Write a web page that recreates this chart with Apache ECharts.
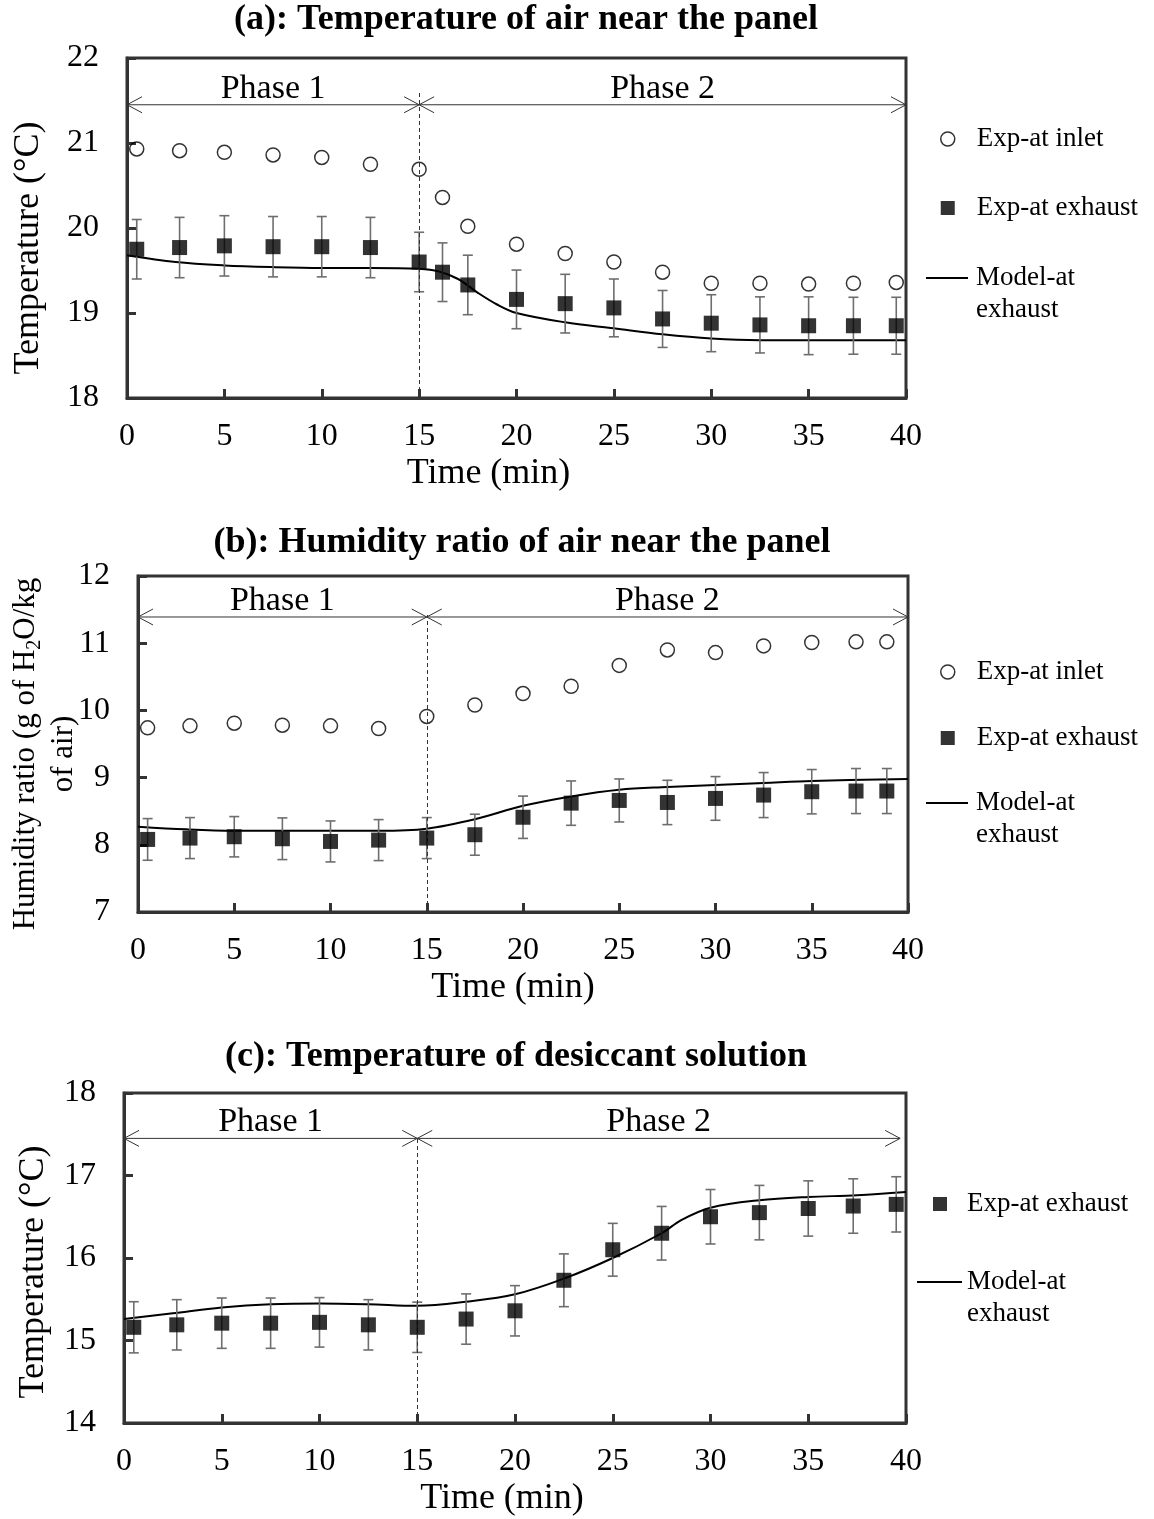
<!DOCTYPE html>
<html>
<head>
<meta charset="UTF-8">
<title>Panel air and desiccant solution</title>
<script src="https://cdn.jsdelivr.net/npm/echarts@6/dist/echarts.min.js"></script>
<style>html,body{margin:0;padding:0;background:#fff;}</style>
</head>
<body>
<div id="main" style="width:1154px;height:1519px;"></div>
<script type="text/javascript">
// (a) temperature of air near the panel
var timeA = [0.5, 2.7, 5, 7.5, 10, 12.5, 15, 16.2, 17.5, 20, 22.5, 25, 27.5, 30, 32.5, 35, 37.3, 39.5];
var inletA = [20.93, 20.91, 20.89, 20.86, 20.83, 20.75, 20.69, 20.36, 20.02, 19.81, 19.70, 19.60, 19.48, 19.35, 19.35, 19.34, 19.35, 19.36];
var exhaustA = [19.75, 19.77, 19.79, 19.78, 19.78, 19.77, 19.60, 19.48, 19.33, 19.16, 19.11, 19.06, 18.93, 18.88, 18.86, 18.85, 18.85, 18.85];
var exhaustErrA = [0.35, 0.355, 0.355, 0.355, 0.355, 0.355, 0.35, 0.345, 0.35, 0.345, 0.345, 0.34, 0.335, 0.335, 0.33, 0.34, 0.335, 0.335];
var modelTimeA = [0, 2.5, 5, 7.5, 10, 12.5, 15, 16, 17, 18, 19, 20, 22.5, 25, 27.5, 30, 32.5, 35, 40];
var modelA = [19.68, 19.60, 19.56, 19.54, 19.53, 19.53, 19.52, 19.49, 19.40, 19.24, 19.10, 19.00, 18.89, 18.82, 18.75, 18.70, 18.68, 18.68, 18.68];

// (b) humidity ratio of air near the panel
var timeB = [0.5, 2.7, 5, 7.5, 10, 12.5, 15, 17.5, 20, 22.5, 25, 27.5, 30, 32.5, 35, 37.3, 38.9];
var inletB = [9.74, 9.77, 9.81, 9.78, 9.77, 9.73, 9.91, 10.08, 10.25, 10.36, 10.67, 10.90, 10.86, 10.96, 11.01, 11.02, 11.02];
var exhaustB = [8.08, 8.10, 8.12, 8.09, 8.05, 8.07, 8.10, 8.15, 8.41, 8.62, 8.66, 8.63, 8.69, 8.74, 8.79, 8.80, 8.80];
var exhaustErrB = [0.31, 0.305, 0.30, 0.31, 0.305, 0.305, 0.305, 0.305, 0.315, 0.33, 0.32, 0.33, 0.325, 0.335, 0.33, 0.335, 0.335];
var modelTimeB = [0, 2.5, 5, 7.5, 10, 12.5, 15, 17.5, 20, 22.5, 25, 27.5, 30, 32.5, 35, 40];
var modelB = [8.27, 8.23, 8.21, 8.21, 8.21, 8.21, 8.24, 8.38, 8.58, 8.72, 8.82, 8.86, 8.89, 8.92, 8.95, 8.98];

// (c) temperature of desiccant solution
var timeC = [0.5, 2.7, 5, 7.5, 10, 12.5, 15, 17.5, 20, 22.5, 25, 27.5, 30, 32.5, 35, 37.3, 39.5];
var exhaustC = [15.16, 15.19, 15.21, 15.21, 15.22, 15.19, 15.16, 15.26, 15.36, 15.73, 16.10, 16.30, 16.50, 16.55, 16.60, 16.63, 16.65];
var exhaustErrC = [0.31, 0.305, 0.305, 0.305, 0.30, 0.305, 0.305, 0.305, 0.305, 0.32, 0.32, 0.325, 0.33, 0.33, 0.335, 0.33, 0.335];
var modelTimeC = [0, 2.5, 5, 7.5, 10, 12.5, 15, 17.5, 20, 22.5, 25, 27.5, 28.5, 30, 32.5, 35, 37.5, 40];
var modelC = [15.26, 15.33, 15.40, 15.44, 15.45, 15.44, 15.42, 15.47, 15.56, 15.75, 16.00, 16.30, 16.46, 16.61, 16.70, 16.74, 16.76, 16.80];

// phase annotations
var phaseNames = ['Phase 1', 'Phase 2'];
var phaseStart = [0, 15];
var phaseEnd = [[15, 40], [15, 40], [15, 39.7]];
var phaseArrowY = [21.45, 11.39, 17.45];
var phaseSwitch = 15;
var dividerTop = [21.62, 11.42, 17.45];

var yMin = [18, 7, 14];
var yMax = [22, 12, 18];

var serif = '"Liberation Serif", "Times New Roman", serif';
var myChart = echarts.init(document.getElementById('main'));

function pairs(xs, ys) {
    return xs.map(function (x, i) { return [x, ys[i]]; });
}
function errData(xs, ys, es) {
    return xs.map(function (x, i) { return [x, ys[i] - es[i], ys[i] + es[i]]; });
}
function phaseData(k) {
    return phaseNames.map(function (n, i) { return [phaseStart[i], phaseEnd[k][i], phaseArrowY[k]]; });
}

function renderErr(params, api) {
    var lo = api.coord([api.value(0), api.value(1)]);
    var hi = api.coord([api.value(0), api.value(2)]);
    var w = 5;
    var st = { stroke: '#6e6e6e', lineWidth: 1.6 };
    return {
        type: 'group',
        children: [
            { type: 'line', shape: { x1: lo[0], y1: lo[1], x2: hi[0], y2: hi[1] }, style: st },
            { type: 'line', shape: { x1: lo[0] - w, y1: lo[1], x2: lo[0] + w, y2: lo[1] }, style: st },
            { type: 'line', shape: { x1: hi[0] - w, y1: hi[1], x2: hi[0] + w, y2: hi[1] }, style: st }
        ]
    };
}

function renderPhase(params, api) {
    var a = api.coord([api.value(0), api.value(2)]);
    var b = api.coord([api.value(1), api.value(2)]);
    var l = 15, h = 8;
    var st = { stroke: '#333', lineWidth: 1, fill: null };
    return {
        type: 'group',
        children: [
            { type: 'line', shape: { x1: a[0], y1: a[1], x2: b[0], y2: b[1] }, style: st },
            { type: 'polyline', shape: { points: [[a[0] + l, a[1] - h], [a[0], a[1]], [a[0] + l, a[1] + h]] }, style: st },
            { type: 'polyline', shape: { points: [[b[0] - l, b[1] - h], [b[0], b[1]], [b[0] - l, b[1] + h]] }, style: st },
            {
                type: 'text', x: (a[0] + b[0]) / 2, y: a[1] - 16,
                style: { text: phaseNames[params.dataIndex], fontFamily: serif, fontSize: 34, fill: '#000', align: 'center', verticalAlign: 'middle' }
            }
        ]
    };
}

function xAxisFor(g, pad) {
    return {
        type: 'value', gridIndex: g, min: 0, max: 40, interval: 5,
        name: 'Time (min)', nameLocation: 'middle', nameGap: 58, nameMoveOverlap: false,
        nameTextStyle: { fontFamily: serif, fontSize: 36, color: '#000', padding: [0, pad, 0, 0] },
        axisLine: { lineStyle: { color: '#333', width: 3 } },
        axisTick: { inside: true, length: 9, lineStyle: { color: '#333', width: 3 } },
        axisLabel: { fontFamily: serif, fontSize: 32, color: '#000', margin: 23 },
        splitLine: { show: false }
    };
}
function yAxisFor(g, name, gap, pad, extra) {
    var ax = {
        type: 'value', gridIndex: g, min: yMin[g], max: yMax[g], interval: 1,
        name: name, nameLocation: 'middle', nameRotate: 90, nameGap: gap, nameMoveOverlap: false,
        nameTextStyle: { fontFamily: serif, fontSize: 36, color: '#000', padding: [0, pad, 0, 0] },
        axisLine: { lineStyle: { color: '#333', width: 3 } },
        axisTick: { inside: true, length: 9, lineStyle: { color: '#333', width: 3 } },
        axisLabel: { fontFamily: serif, fontSize: 32, color: '#000', margin: 28 },
        splitLine: { show: false }
    };
    if (extra) { Object.assign(ax.nameTextStyle, extra); }
    return ax;
}

function panelSeries(k, inlet, time, exhaust, err, mTime, model) {
    var s = [];
    s.push({
        type: 'custom', name: 'phase' + k, xAxisIndex: k, yAxisIndex: k, silent: true,
        renderItem: renderPhase, encode: { x: [0, 1], y: 2 }, data: phaseData(k), z: 1
    });
    s.push({
        type: 'line', name: 'Model-at exhaust', xAxisIndex: k, yAxisIndex: k,
        data: pairs(mTime, model), smooth: 0.35, symbol: 'none',
        lineStyle: { color: '#000', width: 2 }, itemStyle: { color: '#000' }, z: 2,
        markLine: {
            silent: true, symbol: ['none', 'none'], label: { show: false },
            lineStyle: { color: '#333', width: 1, type: [4, 3] },
            data: [[{ coord: [phaseSwitch, yMin[k]] }, { coord: [phaseSwitch, dividerTop[k]] }]]
        }
    });
    if (inlet) {
        s.push({
            type: 'scatter', name: 'Exp-at inlet', xAxisIndex: k, yAxisIndex: k,
            data: pairs(time, inlet), symbol: 'circle', symbolSize: 14,
            itemStyle: { color: 'rgba(255,255,255,0)', borderColor: '#000', borderWidth: 1.5 }, z: 4
        });
    }
    s.push({
        type: 'custom', name: 'err' + k, xAxisIndex: k, yAxisIndex: k, silent: true,
        renderItem: renderErr, encode: { x: 0, y: [1, 2] }, data: errData(time, exhaust, err), z: 3
    });
    s.push({
        type: 'scatter', name: 'Exp-at exhaust', xAxisIndex: k, yAxisIndex: k,
        data: pairs(time, exhaust), symbol: 'rect', symbolSize: 15,
        itemStyle: { color: '#000' }, z: 5
    });
    return s;
}

var legendText = { fontFamily: serif, fontSize: 27, color: '#000', lineHeight: 32 };
var iconInlet = { name: 'Exp-at inlet', icon: 'circle', itemStyle: { color: '#fff', borderColor: '#000', borderWidth: 1.5 } };
var iconExhaust = { name: 'Exp-at exhaust', icon: 'rect', itemStyle: { color: '#000' } };
function pointLegend(left, top, gap, textGap, items) {
    return {
        orient: 'vertical', left: left, top: top, padding: 0, itemGap: gap,
        itemWidth: 14, itemHeight: 14, selectedMode: false,
        textStyle: Object.assign({}, legendText, { padding: [0, 0, 0, textGap] }),
        data: items
    };
}
function modelLegend(left, top, lineLen, textGap) {
    return {
        orient: 'vertical', left: left, top: top, padding: 0,
        itemWidth: lineLen, itemHeight: 2, selectedMode: false,
        textStyle: Object.assign({}, legendText, { padding: [0, 0, 0, textGap] }),
        // blank first line keeps the icon level with "Model-at"
        formatter: function () { return ' \nModel-at\nexhaust'; },
        data: [{ name: 'Model-at exhaust', icon: 'rect', itemStyle: { color: '#000' } }]
    };
}

var titleStyle = { fontFamily: serif, fontSize: 36, fontWeight: 'bold', color: '#000' };
var gridBase = { show: true, borderColor: '#333', borderWidth: 3, backgroundColor: '#fff', outerBoundsMode: 'none', containLabel: false };

myChart.setOption({
    backgroundColor: '#fff',
    animation: false,
    title: [
        { text: '(a): Temperature of air near the panel', left: 526, top: 2, textAlign: 'center', padding: 0, textStyle: titleStyle },
        { text: '(b): Humidity ratio of air near the panel', left: 522, top: 525, textAlign: 'center', padding: 0, textStyle: titleStyle },
        { text: '(c): Temperature of desiccant solution', left: 516, top: 1039, textAlign: 'center', padding: 0, textStyle: titleStyle }
    ],
    legend: [
        pointLegend(940, 123, 37, 17, [iconInlet, iconExhaust]),
        modelLegend(926, 230, 42, 3),
        pointLegend(940, 656, 34, 17, [iconInlet, iconExhaust]),
        modelLegend(926, 755, 42, 3),
        pointLegend(933, 1188, 34, 15, [iconExhaust]),
        modelLegend(917, 1234, 45, 0)
    ],
    grid: [
        Object.assign({ left: 127, top: 58, width: 779, height: 340 }, gridBase),
        Object.assign({ left: 138, top: 576, width: 770, height: 336 }, gridBase),
        Object.assign({ left: 124, top: 1093, width: 782, height: 330 }, gridBase)
    ],
    xAxis: [xAxisFor(0, 56), xAxisFor(1, 20), xAxisFor(2, 26)],
    yAxis: [
        yAxisFor(0, 'Temperature (°C)', 80, 40),
        yAxisFor(1, '{a|Humidity ratio (g of H}{s|2}{a|O/kg}\n{a|of air)}', 55, 20, {
            fontSize: 31, lineHeight: 38,
            rich: {
                a: { fontFamily: serif, fontSize: 31, lineHeight: 38, color: '#000' },
                s: { fontFamily: serif, fontSize: 20, color: '#000', verticalAlign: 'bottom' }
            }
        }),
        yAxisFor(2, 'Temperature (°C)', 72, 28)
    ],
    series: [].concat(
        panelSeries(0, inletA, timeA, exhaustA, exhaustErrA, modelTimeA, modelA),
        panelSeries(1, inletB, timeB, exhaustB, exhaustErrB, modelTimeB, modelB),
        panelSeries(2, null, timeC, exhaustC, exhaustErrC, modelTimeC, modelC)
    )
});
</script>
</body>
</html>
